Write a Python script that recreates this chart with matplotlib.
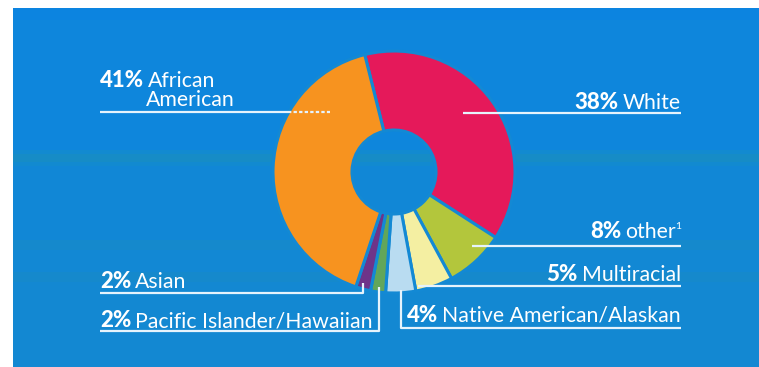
import matplotlib
matplotlib.use("Agg")
import matplotlib.pyplot as plt
from matplotlib.patches import Rectangle

# ---- data ----
labels = ["White", "other", "Multiracial", "Native American/Alaskan",
          "Pacific Islander/Hawaiian", "Asian", "African American"]
shares = [38, 8, 5, 4, 2, 2, 41]
colors = ["#e5195a", "#b3c63c", "#f4efa2", "#b9dcf1", "#62a65a", "#6e3489", "#f7931f"]
pct_text = ["38%", "8%", "5%", "4%", "2%", "2%", "41%"]

W, H = 759, 367
fig = plt.figure(figsize=(W / 100, H / 100), dpi=100)
fig.patch.set_facecolor("white")
ax = fig.add_axes([0, 0, 1, 1])
ax.set_xlim(0, W)
ax.set_ylim(0, H)
ax.set_aspect("equal")
ax.axis("off")

def Y(p):
    return H - p

# background panel with horizontal bands
bands = [(8, 20, "#0c84e0"), (20, 150, "#0e86dc"), (150, 154, "#128ad0"),
         (154, 162, "#168cc6"), (162, 166, "#128ad0"), (166, 240, "#1187d6"),
         (240, 250, "#1589cc"), (250, 272, "#1288d4"), (272, 282, "#1589cc"),
         (282, 367, "#1388d2")]
for y0, y1, c in bands:
    ax.add_patch(Rectangle((13, Y(y1)), W - 13, y1 - y0, facecolor=c,
                           edgecolor="none", zorder=0))

BG = "#1389d4"
cx, cy, R, r_in = 394, Y(172), 121, 42
wedges, _ = ax.pie(shares, colors=colors, startangle=104, counterclock=False,
                   center=(cx, cy), radius=R, frame=True,
                   wedgeprops=dict(width=R - r_in, edgecolor=BG, linewidth=2.2))
for w in wedges:
    w.set_zorder(2)
ax.set_xlim(0, W)
ax.set_ylim(0, H)
ax.axis("off")

LC = "#e6f3fc"
LW = 1.6
FS = 15.3
FSP = 16
FONT = "Lato"

fig.canvas.draw()
renderer = fig.canvas.get_renderer()
inv = ax.transData.inverted()

def width_of(t):
    bb = t.get_window_extent(renderer=renderer)
    (x0, _), (x1, _) = inv.transform([(bb.x0, bb.y0), (bb.x1, bb.y1)])
    return x0, x1

def left_label(x, base, pct, name):
    t1 = ax.text(x, Y(base), pct, fontsize=FSP, fontfamily=FONT, fontweight="black",
                 color="white", ha="left", va="baseline", zorder=4)
    _, x1 = width_of(t1)
    ax.text(x1 + 4, Y(base), name, fontsize=FS, fontfamily=FONT, color="white",
            ha="left", va="baseline", zorder=4)
    return x1 + 4

def right_label(x, base, pct, name, sup=None):
    xe = x
    if sup:
        ts = ax.text(x, Y(base - 9), sup, fontsize=7.5, fontfamily=FONT, color="white",
                     ha="right", va="baseline", zorder=4)
        sx0, _ = width_of(ts)
        xe = sx0 + 1
    t2 = ax.text(xe, Y(base), name, fontsize=FS, fontfamily=FONT, color="white",
                 ha="right", va="baseline", zorder=4)
    x0, _ = width_of(t2)
    ax.text(x0 - 4, Y(base), pct, fontsize=FSP, fontfamily=FONT, fontweight="black",
            color="white", ha="right", va="baseline", zorder=4)

def line(xs, ys, **kw):
    ax.plot(xs, [Y(v) for v in ys], color=LC, lw=LW, solid_capstyle="butt",
            zorder=3, **kw)

# African American
xa = left_label(100, 87, pct_text[6], "African")
ax.text(xa - 2, Y(106), "American", fontsize=FS, fontfamily=FONT, color="white",
        ha="left", va="baseline", zorder=4)
line([100, 288], [112, 112])
line([288, 330], [112, 112], linestyle=(0, (1.5, 1)))

# White
right_label(681, 109, pct_text[0], labels[0])
line([463, 681], [113, 113])

# other
right_label(681, 238, pct_text[1], labels[1], sup="1")
line([472, 681], [246, 246])

# Multiracial
right_label(681, 281, pct_text[2], labels[2])
line([418, 681], [286, 286])

# Native American/Alaskan
right_label(681, 322, pct_text[3], labels[3])
line([401, 401, 681], [290, 328, 328])

# Asian
left_label(100, 288, pct_text[5], labels[5])
line([100, 363, 363], [293, 293, 283])

# Pacific Islander/Hawaiian
left_label(100, 327, pct_text[4], labels[4])
line([100, 379, 379], [331, 331, 287])

fig.savefig("out.png", dpi=100, facecolor=fig.get_facecolor())
